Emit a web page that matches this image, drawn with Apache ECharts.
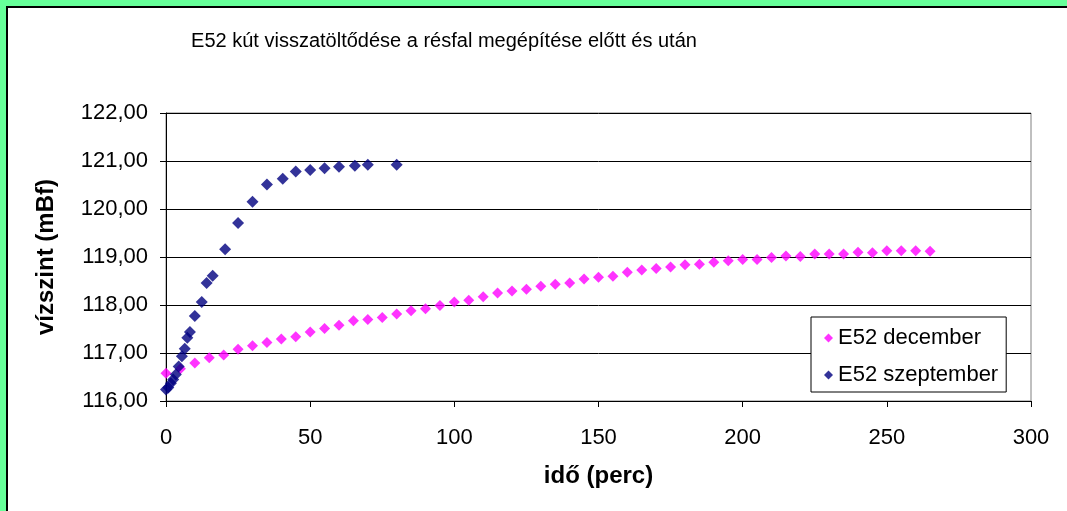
<!DOCTYPE html>
<html>
<head>
<meta charset="utf-8">
<script src="https://cdn.jsdelivr.net/npm/echarts@6/dist/echarts.min.js"></script>
<style>html,body{margin:0;padding:0;background:#66FF99;}#c{width:1067px;height:511px;}</style>
</head>
<body>
<div id="c"></div>
<script>
const titleText = 'E52 kút visszatöltődése a résfal megépítése előtt és után';
const xName = 'idő (perc)';
const yName = 'vízszint (mBf)';
const seriesNames = ['E52 december', 'E52 szeptember'];

const decTime = [0,5,10,15,20,25,30,35,40,45,50,55,60,65,70,75,80,85,90,95,100,105,110,115,120,125,130,135,140,145,150,155,160,165,170,175,180,185,190,195,200,205,210,215,220,225,230,235,240,245,250,255,260,265];
const decLevel = [116.58,116.67,116.79,116.90,116.96,117.08,117.15,117.22,117.29,117.34,117.44,117.51,117.58,117.67,117.70,117.74,117.81,117.88,117.92,117.99,118.06,118.10,118.17,118.25,118.29,118.33,118.39,118.43,118.46,118.54,118.58,118.60,118.68,118.73,118.76,118.79,118.84,118.85,118.89,118.92,118.95,118.95,118.99,119.02,119.01,119.06,119.06,119.06,119.10,119.09,119.13,119.13,119.13,119.12];

const sepTime = [0,0.8,1.7,2.5,3.4,4.4,5.5,6.5,7.4,8.3,10,12.4,14.1,16.2,20.5,25,30,35,40.5,45,50,55,60,65.5,70,80];
const sepLevel = [116.24,116.28,116.37,116.45,116.55,116.72,116.93,117.09,117.32,117.44,117.77,118.06,118.46,118.61,119.16,119.71,120.15,120.51,120.63,120.78,120.81,120.85,120.88,120.90,120.92,120.92];

const xMin = 0, xMax = 300, xStep = 50;
const yMin = 116, yMax = 122, yStep = 1;

const FONT = 'Liberation Sans, Arial, sans-serif';

function pairs(xs, ys) { return xs.map((x, i) => [x, ys[i]]); }

const chart = echarts.init(document.getElementById('c'), null, {renderer: 'canvas'});
chart.setOption({
  animation: false,
  backgroundColor: '#66FF99',
  textStyle: {fontFamily: FONT, color: '#000'},
  graphic: [{
    type: 'rect', z: -100, silent: true,
    shape: {x: 7, y: 7, width: 1100, height: 600},
    style: {fill: '#ffffff', stroke: '#000000', lineWidth: 2}
  }],
  title: {
    text: titleText, left: 444, top: 31, textAlign: 'center', padding: 0,
    textStyle: {fontFamily: FONT, fontSize: 20, fontWeight: 'normal', color: '#000'}
  },
  legend: {
    orient: 'vertical', left: 811, top: 317,
    padding: [10, 8, 6, 13], itemGap: 15,
    borderColor: '#000', borderWidth: 1, backgroundColor: '#fff',
    itemWidth: 9, itemHeight: 9, icon: 'diamond',
    textStyle: {fontFamily: FONT, fontSize: 22, color: '#000'},
    data: seriesNames
  },
  grid: {
    left: 166, right: 36, top: 113, bottom: 110,
    show: true, borderColor: '#808080', borderWidth: 1, backgroundColor: '#fff'
  },
  xAxis: {
    type: 'value', min: xMin, max: xMax, interval: xStep,
    name: xName, nameLocation: 'middle', nameGap: 63,
    nameTextStyle: {fontFamily: FONT, fontSize: 24, fontWeight: 'bold', color: '#000'},
    axisLine: {show: true, lineStyle: {color: '#000', width: 1}},
    axisTick: {show: true, length: 6, inside: false, lineStyle: {color: '#000'}},
    axisLabel: {margin: 26, fontFamily: FONT, fontSize: 22, color: '#000'},
    splitLine: {show: false}
  },
  yAxis: {
    type: 'value', min: yMin, max: yMax, interval: yStep,
    name: yName, nameLocation: 'middle', nameGap: 108, nameRotate: 90,
    nameTextStyle: {fontFamily: FONT, fontSize: 24, fontWeight: 'bold', color: '#000'},
    axisLine: {show: true, lineStyle: {color: '#000', width: 1}},
    axisTick: {show: true, length: 6, inside: false, lineStyle: {color: '#000'}},
    axisLabel: {margin: 18, fontFamily: FONT, fontSize: 22, color: '#000',
      formatter: v => v.toFixed(2).replace('.', ',')},
    splitLine: {show: true, lineStyle: {color: '#000', width: 1}}
  },
  series: [
    {name: seriesNames[0], type: 'scatter', symbol: 'diamond', symbolSize: 11,
     itemStyle: {color: '#FF00FF'}, data: pairs(decTime, decLevel)},
    {name: seriesNames[1], type: 'scatter', symbol: 'diamond', symbolSize: 12,
     itemStyle: {color: '#000080'}, data: pairs(sepTime, sepLevel)}
  ]
});
</script>
</body>
</html>
